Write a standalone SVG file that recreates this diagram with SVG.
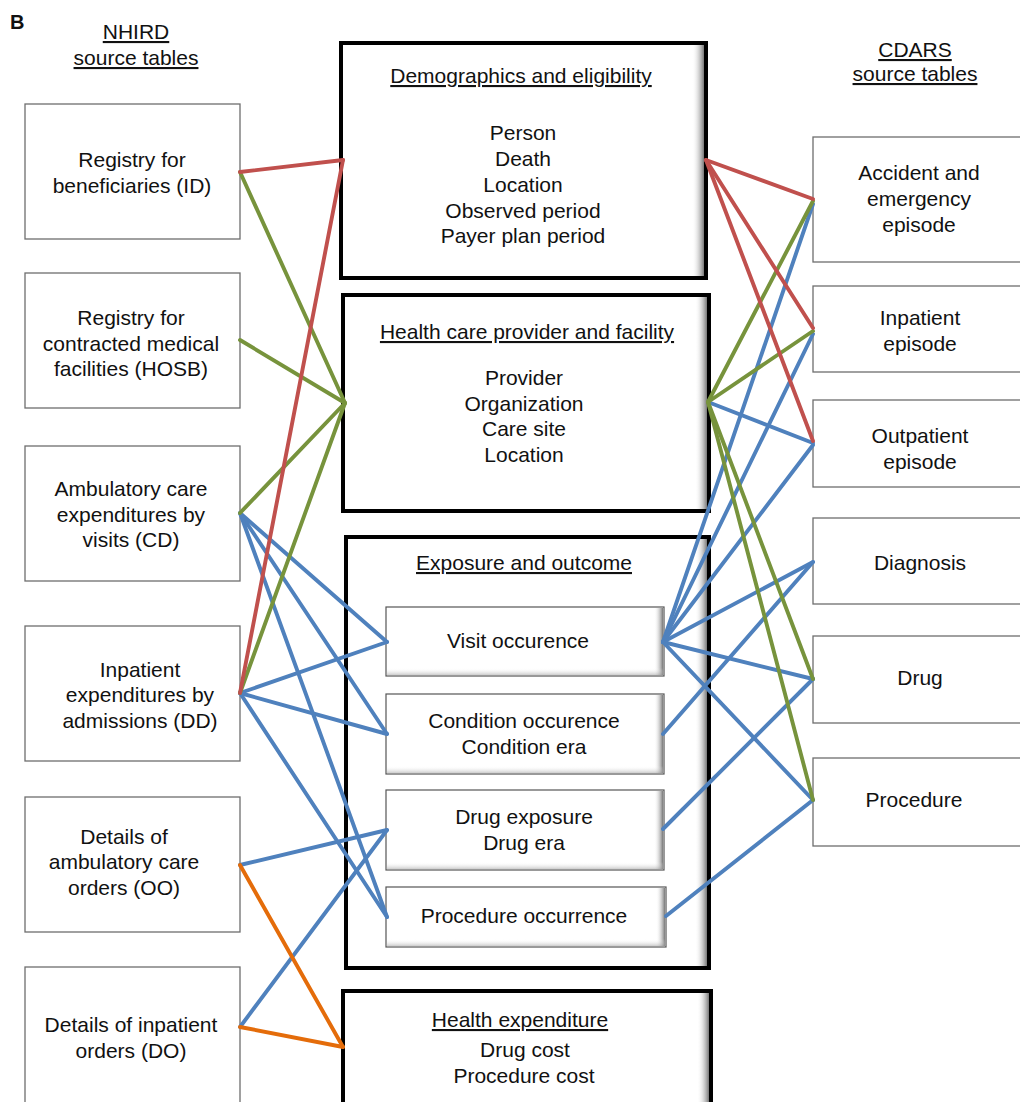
<svg xmlns="http://www.w3.org/2000/svg" width="1020" height="1102" viewBox="0 0 1020 1102">
<style>
text{font-family:"Liberation Sans",Arial,sans-serif;font-size:21px;fill:#111;text-anchor:middle}
.u{text-decoration:underline}
.src{fill:#fff;stroke:#6e6e6e;stroke-width:1.3}
.big{fill:#fff;stroke:#000;stroke-width:4}
.inner{fill:#fff;stroke:#555;stroke-width:1.2}
.c line{stroke-width:3.9;stroke-linecap:round;fill:none}
.r{stroke:#c0504d}
.g{stroke:#77933c}
.b{stroke:#4f81bd}
.o{stroke:#e46c0a}
</style>
<defs>
<linearGradient id="shR" x1="0" y1="0" x2="1" y2="0">
<stop offset="0" stop-color="#fff" stop-opacity="0"/>
<stop offset="1" stop-color="#777"/>
</linearGradient>
<linearGradient id="shB" x1="0" y1="0" x2="0" y2="1">
<stop offset="0" stop-color="#fff" stop-opacity="0"/>
<stop offset="1" stop-color="#999"/>
</linearGradient>
</defs>
<rect width="1020" height="1102" fill="#fff"/>
<text x="10" y="29" style="font-weight:bold;font-size:20px;text-anchor:start">B</text>
<text x="136" y="39" class="u">NHIRD</text>
<text x="136" y="65" class="u">source tables</text>
<text x="915" y="57" class="u">CDARS</text>
<text x="915" y="81" class="u">source tables</text>

<g id="nhird-id"><rect class="src" x="25" y="104" width="215" height="135"/><text x="132" y="167">Registry for</text><text x="132" y="193">beneficiaries (ID)</text></g>
<g id="nhird-hosb"><rect class="src" x="25" y="273" width="215" height="135"/><text x="131" y="325">Registry for</text><text x="131" y="351">contracted medical</text><text x="131" y="376">facilities (HOSB)</text></g>
<g id="nhird-cd"><rect class="src" x="25" y="446" width="215" height="135"/><text x="131" y="496">Ambulatory care</text><text x="131" y="522">expenditures by</text><text x="131" y="547">visits (CD)</text></g>
<g id="nhird-dd"><rect class="src" x="25" y="626" width="215" height="135"/><text x="140" y="677">Inpatient</text><text x="140" y="702">expenditures by</text><text x="140" y="728">admissions (DD)</text></g>
<g id="nhird-oo"><rect class="src" x="25" y="797" width="215" height="135"/><text x="124" y="844">Details of</text><text x="124" y="869">ambulatory care</text><text x="124" y="895">orders (OO)</text></g>
<g id="nhird-do"><rect class="src" x="25" y="967" width="215" height="145"/><text x="131" y="1032">Details of inpatient</text><text x="131" y="1058">orders (DO)</text></g>

<g id="cdars-ae"><rect class="src" x="813" y="137" width="220" height="125"/><text x="919" y="180">Accident and</text><text x="919" y="206">emergency</text><text x="919" y="232">episode</text></g>
<g id="cdars-inp"><rect class="src" x="813" y="286" width="220" height="86"/><text x="920" y="325">Inpatient</text><text x="920" y="351">episode</text></g>
<g id="cdars-out"><rect class="src" x="813" y="400" width="220" height="87"/><text x="920" y="443">Outpatient</text><text x="920" y="469">episode</text></g>
<g id="cdars-diag"><rect class="src" x="813" y="518" width="220" height="86"/><text x="920" y="570">Diagnosis</text></g>
<g id="cdars-drug"><rect class="src" x="813" y="636" width="220" height="87"/><text x="920" y="685">Drug</text></g>
<g id="cdars-proc"><rect class="src" x="813" y="758" width="220" height="88"/><text x="914" y="807">Procedure</text></g>

<g id="demographics"><rect class="big" x="341" y="43" width="365" height="235"/><rect x="692" y="45" width="12" height="231" fill="url(#shR)"/><text x="521" y="83" class="u">Demographics and eligibility</text><text x="523" y="140">Person</text><text x="523" y="166">Death</text><text x="523" y="192">Location</text><text x="523" y="218">Observed period</text><text x="523" y="243">Payer plan period</text></g>
<g id="healthcare"><rect class="big" x="343" y="295" width="366" height="216"/><rect x="695" y="297" width="12" height="212" fill="url(#shR)"/><text x="527" y="339" class="u">Health care provider and facility</text><text x="524" y="385">Provider</text><text x="524" y="411">Organization</text><text x="524" y="436">Care site</text><text x="524" y="462">Location</text></g>
<g id="exposure"><rect class="big" x="346" y="537" width="363" height="431"/><rect x="695" y="539" width="12" height="427" fill="url(#shR)"/><text x="524" y="570" class="u">Exposure and outcome</text></g>
<g id="visit"><rect class="inner" x="386" y="607" width="278" height="69"/><rect x="654" y="608" width="9" height="67" fill="url(#shR)"/><rect x="387" y="668" width="276" height="7" fill="url(#shB)" opacity="0.5"/><text x="518" y="648">Visit occurence</text></g>
<g id="condition"><rect class="inner" x="386" y="694" width="278" height="80"/><rect x="654" y="695" width="9" height="78" fill="url(#shR)"/><rect x="387" y="766" width="276" height="7" fill="url(#shB)" opacity="0.5"/><text x="524" y="728">Condition occurence</text><text x="524" y="754">Condition era</text></g>
<g id="drugexp"><rect class="inner" x="386" y="790" width="278" height="80"/><rect x="654" y="791" width="9" height="78" fill="url(#shR)"/><rect x="387" y="862" width="276" height="7" fill="url(#shB)" opacity="0.5"/><text x="524" y="824">Drug exposure</text><text x="524" y="850">Drug era</text></g>
<g id="prococc"><rect class="inner" x="386" y="887" width="280" height="60"/><rect x="656" y="888" width="9" height="58" fill="url(#shR)"/><rect x="387" y="939" width="278" height="7" fill="url(#shB)" opacity="0.5"/><text x="524" y="923">Procedure occurrence</text></g>
<g id="expenditure"><rect class="big" x="343" y="991" width="368" height="125"/><rect x="697" y="993" width="12" height="112" fill="url(#shR)"/><text x="520" y="1027" class="u">Health expenditure</text><text x="525" y="1057">Drug cost</text><text x="524" y="1083">Procedure cost</text></g>

<g id="connectors" class="c">
<line class="b" x1="240" y1="513" x2="387" y2="642"/>
<line class="b" x1="240" y1="513" x2="387" y2="734"/>
<line class="b" x1="240" y1="513" x2="387" y2="917"/>
<line class="b" x1="240" y1="693" x2="387" y2="642"/>
<line class="b" x1="240" y1="693" x2="387" y2="734"/>
<line class="b" x1="240" y1="693" x2="387" y2="917"/>
<line class="b" x1="240" y1="865" x2="387" y2="830"/>
<line class="b" x1="240" y1="1027" x2="387" y2="830"/>
<line class="b" x1="663" y1="642" x2="813" y2="204"/>
<line class="b" x1="663" y1="642" x2="813" y2="334"/>
<line class="b" x1="663" y1="642" x2="813" y2="445"/>
<line class="b" x1="663" y1="642" x2="813" y2="562"/>
<line class="b" x1="663" y1="642" x2="813" y2="679"/>
<line class="b" x1="663" y1="642" x2="813" y2="800"/>
<line class="b" x1="708" y1="402" x2="813" y2="443"/>
<line class="b" x1="663" y1="734" x2="813" y2="562"/>
<line class="b" x1="663" y1="829" x2="813" y2="679"/>
<line class="b" x1="666" y1="916" x2="813" y2="800"/>
<line class="g" x1="240" y1="172" x2="345" y2="403"/>
<line class="g" x1="240" y1="340" x2="345" y2="403"/>
<line class="g" x1="240" y1="513" x2="345" y2="403"/>
<line class="g" x1="240" y1="693" x2="345" y2="403"/>
<line class="g" x1="708" y1="402" x2="813" y2="201"/>
<line class="g" x1="708" y1="402" x2="813" y2="331"/>
<line class="g" x1="708" y1="402" x2="813" y2="679"/>
<line class="g" x1="708" y1="402" x2="813" y2="800"/>
<line class="r" x1="240" y1="172" x2="343" y2="160"/>
<line class="r" x1="240" y1="693" x2="343" y2="160"/>
<line class="r" x1="706" y1="160" x2="813" y2="199"/>
<line class="r" x1="706" y1="160" x2="813" y2="328"/>
<line class="r" x1="706" y1="160" x2="813" y2="441"/>
<line class="o" x1="240" y1="865" x2="343" y2="1047"/>
<line class="o" x1="240" y1="1027" x2="343" y2="1047"/>
</g>
</svg>
